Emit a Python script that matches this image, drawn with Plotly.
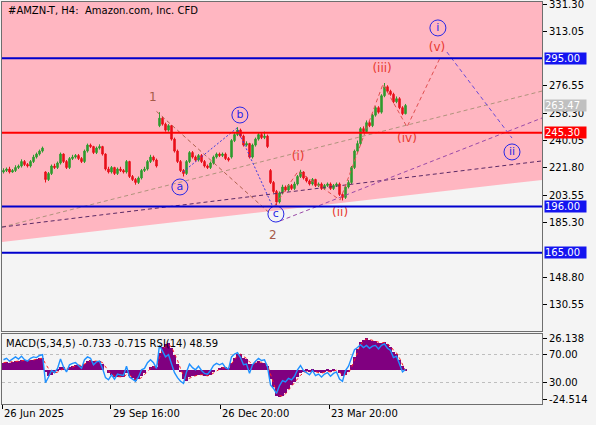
import plotly.graph_objects as go

# H4 bars (bar index -> price)
bar_idx = list(range(135))
opens = [219, 220, 221, 219, 220, 222, 223, 226, 224, 223, 226, 229, 231, 233, 219,
         214, 218, 223, 222, 225, 231, 226, 222, 228, 229, 230, 228, 226, 233, 237,
         236, 232, 235, 236, 231, 221, 219, 222, 218, 221, 220, 219, 226, 216, 214,
         212, 215, 220, 221, 226, 229, 227, 250, 255, 251, 247, 250, 241, 233, 226,
         220, 218, 226, 232, 229, 227, 230, 226, 223, 222, 225, 229, 231, 230, 231,
         228, 229, 240, 244, 247, 243, 237, 238, 229, 237, 241, 244, 242, 243, 220,
         212, 206, 199, 205, 209, 207, 210, 208, 211, 216, 219, 215, 213, 211, 214,
         210, 211, 208, 210, 211, 208, 210, 211, 204, 202, 209, 212, 222, 233, 238,
         248, 246, 252, 250, 257, 262, 259, 270, 276, 273, 271, 266, 268, 262, 258]
highs = [221.5, 222, 222.5, 221, 223.5, 224, 227.5, 227, 225, 227, 230.5, 232, 234, 236, 219.5,
         219, 224, 224.5, 226, 232, 231.5, 227, 229, 230.5, 231, 231, 229, 234, 238, 238,
         236.5, 236, 237.5, 236.5, 231.5, 222.5, 223, 222.5, 222, 222.5, 221, 227, 226.5, 217, 215,
         216, 221, 222.5, 227, 230.5, 230, 228, 259, 256, 252, 251, 250.5, 242, 234, 227,
         221, 227, 233, 233, 230, 231, 231, 227, 224, 226, 230, 232, 232, 232, 232,
         229, 241, 245, 249, 248, 244, 239.5, 238.5, 238, 242, 245.5, 245, 246, 244, 221,
         213, 207, 206, 210.5, 210, 211, 211, 212.5, 217, 220.5, 219.5, 216, 214, 215, 214.5,
         212, 212, 211, 212, 212, 211, 212, 212, 205, 210, 213.5, 223, 234, 240, 249,
         249.5, 253.5, 253, 258, 263, 263, 271, 278.5, 277, 274, 272, 269.5, 269, 263, 264.5]
lows = [218, 219, 218, 218.5, 219, 221, 222, 223, 222, 222, 225, 228, 230, 232, 212,
        213, 217, 221, 221, 224, 225, 221, 221, 227, 228, 227, 225, 225, 232, 235,
        231, 231, 234, 230, 220, 218, 218, 217, 217, 219, 218, 218, 215, 213, 210.5,
        211, 214, 219, 220, 225, 226, 222, 249, 250, 246, 246, 240, 232, 225, 219,
        216, 217, 225, 228, 226, 226, 225, 222, 221, 221, 224, 228, 229, 229, 227,
        226, 228, 239, 243, 242, 236, 236, 228, 228, 236, 240, 241, 241, 235, 211,
        205, 197, 198, 204, 206, 206, 207, 207, 210, 215, 214, 212, 210, 210, 209,
        209, 207, 207, 209, 207, 207, 209, 203, 200, 201, 208, 211, 221, 232, 237,
        245, 245, 249, 249, 256, 258, 258, 269, 272, 270, 265, 265, 261, 257, 257.5]
closes = [220, 221, 219, 220, 222, 223, 226, 224, 223, 226, 229, 231, 233, 235, 214,
          218, 223, 222, 225, 231, 226, 222, 228, 229, 230, 228, 226, 233, 237, 236,
          232, 235, 236, 231, 221, 219, 222, 218, 221, 220, 219, 226, 216, 214, 212,
          215, 220, 221, 226, 229, 227, 223, 255, 251, 247, 250, 241, 233, 226, 220,
          218, 226, 232, 229, 227, 230, 226, 223, 222, 225, 229, 231, 230, 231, 228,
          227, 240, 244, 247, 243, 237, 238, 229, 237, 241, 244, 242, 243, 236, 212,
          206, 199, 205, 209, 207, 210, 208, 211, 216, 219, 215, 213, 211, 214, 210,
          211, 208, 210, 211, 208, 210, 211, 204, 202, 209, 212, 222, 233, 238, 248,
          246, 252, 250, 257, 262, 259, 270, 276, 273, 271, 266, 268, 262, 258, 263.47]

# indicator pane
macd = [6, 6.5, 6, 6.5, 7, 7, 8, 8, 7.5, 8, 8.5, 9, 9.5, 10, -2,
        -5, -4, -3, -1, 2, 2, 0, 2, 3, 4, 4, 3, 5, 7, 8,
        7, 7, 7, 5, 0, -3, -4, -6, -6, -6, -6, -3, -5, -7, -9,
        -8, -5, -3, 0, 2, 3, 2, 14, 19, 21, 22, 18, 12, 5, -2,
        -8, -9, -6, -5, -5, -4, -4, -5, -5, -4, -2, 0, 1, 2, 2,
        1, 6, 10, 13, 13, 10, 9, 5, 5, 6, 7, 6, 6, 3, -8,
        -14, -22, -23, -22, -19, -16, -13, -10, -6, -3, -2, -1, -2, -1, -2,
        -2, -3, -2, -1, -2, -1, 0, -3, -5, -4, -2, 4, 11, 17, 23,
        25, 26, 25, 24, 24, 22, 22, 23, 21, 19, 15, 13, 8, 3, -0.733]
signal = [6, 6.2, 6.1, 6.3, 6.6, 6.8, 7.4, 7.8, 7.7, 7.8, 8.2, 8.6, 9.1, 9.6, 5,
          1, -1.5, -2.5, -2, -0.5, 1, 0.5, 1.5, 2.5, 3.5, 4, 3.5, 4.5, 6, 7.5,
          7.2, 7, 7, 6, 2.5, -1, -3, -5, -5.7, -6, -6, -4, -4.5, -6, -8,
          -8, -6.5, -4, -1.5, 1, 2.5, 2.2, 10, 16, 19.5, 21, 19, 14, 8, 1,
          -5, -8, -7, -5.5, -5, -4.3, -4, -4.6, -5, -4.3, -2.7, -0.8, 0.5, 1.5, 1.8,
          1.3, 4.5, 8.5, 12, 13, 11, 9.5, 6.5, 5.3, 5.8, 6.6, 6.2, 6, 4, -4,
          -11, -18.5, -21.5, -22, -20, -17, -14, -11, -7.5, -4.5, -2.7, -1.5, -1.8, -1.3, -1.8,
          -2, -2.7, -2.2, -1.3, -1.8, -1.3, -0.3, -2, -4.2, -4, -2.6, 2, 8, 14, 20.5,
          24, 25.5, 25.2, 24.4, 24, 22.7, 22.2, 22.7, 21.5, 19.7, 16.3, 14, 9.7, 4.9, -0.715]
rsi = [62, 64, 60, 63, 66, 63, 67, 62, 60, 64, 66, 65, 68, 69, 30,
       38, 47, 44, 50, 63, 52, 45, 55, 57, 58, 54, 50, 62, 66, 64,
       55, 59, 60, 50, 37, 34, 41, 35, 42, 41, 40, 53, 38, 35, 32,
       38, 48, 50, 58, 62, 58, 50, 82, 74, 66, 69, 55, 44, 37, 32,
       29, 45, 56, 51, 48, 53, 47, 43, 42, 47, 54, 57, 55, 57, 51,
       49, 66, 70, 72, 65, 55, 56, 43, 55, 60, 64, 61, 62, 52, 27,
       22, 15, 26, 33, 31, 36, 34, 39, 48, 54, 47, 44, 41, 47, 40,
       42, 38, 42, 44, 39, 43, 45, 35, 32, 47, 53, 66, 76, 79, 83,
       79, 82, 78, 81, 82, 77, 82, 84, 78, 75, 65, 67, 56, 45, 48.59]

blue_levels = [295.00, 196.00, 165.00]
red_level = 245.30
last_price = 263.47
price_ticks = [331.30, 313.05, 276.55, 258.30, 240.05, 221.80, 203.55, 185.30, 148.80, 130.55]
time_ticks = [-0.5, 35.8, 72.2, 108.5]
time_labels = ["26 Jun 2025", "29 Sep 16:00", "26 Dec 20:00", "23 Mar 20:00"]

# drawn objects (bar index, price)
edge_x = [-0.5, 179.5]
zone_low = [172.2, 213.7]
tan_line = [182.2, 273.1]
dark_line = [182.2, 226.4]
chan_x = [92.2, 179.5]
chan_y = [186.3, 255.1]
w12_x = [51, 89]
w12_y = [259.5, 191]
abc_x = [59.8, 77.8, 89.5]
abc_y = [219, 248.4, 196.9]
minor_x = [90.5, 98.2, 112.2, 126.5, 134.5, 145.5]
minor_y = [196.9, 219.5, 200.3, 277.8, 249.1, 295.2]
next_x = [147.8, 169.5]
next_y = [299.2, 241.7]

big_labels = ["1", "2"]
big_x = [49.8, 89.8]
big_y = [268.5, 176.2]
minor_labels = ["(i)", "(ii)", "(iii)", "(iv)", "(v)"]
minor_lx = [98.2, 112.2, 126.2, 134.5, 144.5]
minor_ly = [229.0, 191.6, 287.9, 241.0, 301.9]
circ_labels = ["a", "b", "c", "i", "ii"]
circ_x = [58.8, 78.8, 90.8, 144.8, 169.5]
circ_y = [209.0, 257.1, 190.9, 315.3, 232.4]

FONT = "DejaVu Sans"
top = 332.64
SHORT_DASH = "4px,3px"

fig = go.Figure()

fig.add_trace(go.Candlestick(
    x=bar_idx, open=opens, high=highs, low=lows, close=closes,
    increasing=dict(line=dict(color="#2E9B2E", width=1), fillcolor="#2E9B2E"),
    decreasing=dict(line=dict(color="#E8101A", width=1), fillcolor="#E8101A"),
    whiskerwidth=0))

dash_lines = [
    (edge_x, tan_line, "#B0937C", SHORT_DASH),
    (edge_x, dark_line, "#5C2A66", SHORT_DASH),
    (chan_x, chan_y, "#9A4AA8", SHORT_DASH),
    (w12_x, w12_y, "#B0624E", SHORT_DASH),
    (abc_x, abc_y, "#3A3AE0", "2px,2px"),
    (minor_x, minor_y, "#E05050", SHORT_DASH),
    (next_x, next_y, "#6A4AD8", SHORT_DASH),
]
for xs, ys, col, dash in dash_lines:
    fig.add_trace(go.Scatter(x=xs, y=ys, mode="lines",
                             line=dict(color=col, width=1, dash=dash), hoverinfo="skip"))

fig.add_trace(go.Scatter(x=circ_x, y=circ_y, mode="markers+text", text=circ_labels,
                         textposition="middle center",
                         textfont=dict(family=FONT, size=11, color="#2828E6"),
                         marker=dict(symbol="circle-open", size=16,
                                     line=dict(color="#2828E6", width=1), color="#2828E6"),
                         hoverinfo="skip"))
fig.add_trace(go.Scatter(x=big_x, y=big_y, mode="text", text=big_labels,
                         textfont=dict(family=FONT, size=12, color="#A65A48"), hoverinfo="skip"))
fig.add_trace(go.Scatter(x=minor_lx, y=minor_ly, mode="text", text=minor_labels,
                         textfont=dict(family=FONT, size=12, color="#E8382E"), hoverinfo="skip"))

# indicator pane
fig.add_trace(go.Bar(x=bar_idx, y=macd, marker=dict(color="#800080", line=dict(width=0)),
                     width=1, xaxis="x2", yaxis="y2", hoverinfo="skip"))
fig.add_trace(go.Scatter(x=bar_idx, y=signal, mode="lines", xaxis="x2", yaxis="y2",
                         line=dict(color="#FF2020", width=1, dash="dot"), hoverinfo="skip"))
fig.add_trace(go.Scatter(x=bar_idx, y=rsi, mode="lines", xaxis="x2", yaxis="y3",
                         line=dict(color="#1E90FF", width=1.4), hoverinfo="skip"))

# pink zone below the traces
fig.add_shape(type="path", xref="x", yref="y", layer="below",
              path=(f"M {edge_x[0]},{zone_low[0]} L {edge_x[1]},{zone_low[1]} "
                    f"L {edge_x[1]},{top} L {edge_x[0]},{top} Z"),
              fillcolor="#FFB6C1", line=dict(width=0))

for lv in blue_levels:
    fig.add_hline(y=lv, line=dict(color="#0000CD", width=2), yref="y")
fig.add_hline(y=red_level, line=dict(color="#FF0000", width=2), yref="y")
fig.add_hline(y=last_price, line=dict(color="#C8C8C8", width=1), yref="y", layer="below")

price_boxes = [(lv, "#1414F0") for lv in blue_levels] + [(red_level, "#FF0000"), (last_price, "#C0C0C0")]
annotations = []
for lv, col in price_boxes:
    annotations.append(dict(xref="paper", x=1, xanchor="left", xshift=2, yref="y", y=lv,
                            text=f"{lv:.2f}", showarrow=False, bgcolor=col, borderpad=0,
                            width=41, align="left",
                            font=dict(family=FONT, size=10, color="white")))
for tx, lab in zip(time_ticks, time_labels):
    annotations.append(dict(xref="x2", x=tx, xanchor="left", yref="paper", y=0,
                            yanchor="top", yshift=-2, text=lab, showarrow=False,
                            font=dict(family=FONT, size=10, color="black")))
annotations.append(dict(xref="paper", x=0, xanchor="left", xshift=4, yref="paper", y=1,
                        yanchor="top", yshift=-1, text="#AMZN-T, H4:  Amazon.com, Inc. CFD",
                        showarrow=False, font=dict(family=FONT, size=10, color="black")))
annotations.append(dict(xref="paper", x=0, xanchor="left", xshift=2, yref="paper", y=0.1741,
                        yanchor="top", yshift=-2, text="MACD(5,34,5) -0.733 -0.715 RSI(14) 48.59",
                        showarrow=False, font=dict(family=FONT, size=10, color="black")))

axis_line = dict(showline=True, mirror=True, linecolor="#6E6E6E", linewidth=1,
                 zeroline=False, showgrid=False, automargin=False)

fig.update_layout(
    width=596, height=425,
    margin=dict(l=2, r=54, t=2, b=21, autoexpand=False),
    paper_bgcolor="#F4F4F4", plot_bgcolor="#F4F4F4",
    showlegend=False, bargap=0,
    font=dict(family=FONT, size=10, color="black"),
    annotations=annotations,
    xaxis=dict(domain=[0, 1], anchor="y", range=[-0.5, 179.5], showticklabels=False,
               ticks="", rangeslider=dict(visible=False), **axis_line),
    yaxis=dict(domain=[0.1816, 1], anchor="x", side="right", range=[112.73, top],
               tickvals=price_ticks, ticktext=[f"{v:.2f}" for v in price_ticks],
               ticklabeloverflow="allow",
               ticks="outside", ticklen=4, tickcolor="black", **axis_line),
    xaxis2=dict(domain=[0, 1], anchor="y2", range=[-0.5, 179.5], showticklabels=False,
                tickvals=time_ticks, ticks="outside", ticklen=4, tickcolor="black", **axis_line),
    yaxis2=dict(domain=[0, 0.1741], anchor="x2", side="right", range=[-28.42, 29.71],
                tickvals=[26.138, -24.514], ticktext=["26.138", "-24.514"],
                ticks="outside", ticklen=4, tickcolor="black", **axis_line),
    yaxis3=dict(overlaying="y2", anchor="x2", side="right", range=[0.3, 97.9],
                tickvals=[70, 30], ticktext=["70.00", "30.00"], ticks="outside", ticklen=4,
                tickcolor="black", showgrid=True, gridcolor="#BEBEBE", griddash="dot",
                zeroline=False, showline=False, automargin=False),
)

fig.write_html("out.html", config={"displayModeBar": False})

# drop the browser's default page margin so the figure sits at the top-left corner
with open("out.html", encoding="utf-8") as f:
    page = f.read()
page = page.replace("<body>", '<body style="margin:0">', 1)
with open("out.html", "w", encoding="utf-8") as f:
    f.write(page)
